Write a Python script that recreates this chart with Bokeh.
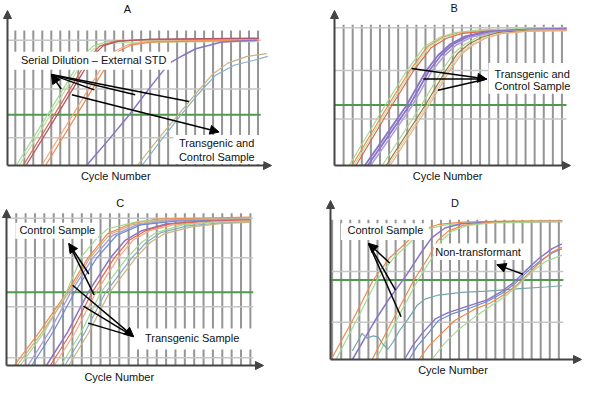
from bokeh.plotting import figure
from bokeh.models import Range1d, BoxAnnotation, Label, Arrow, NormalHead
from bokeh.layouts import gridplot
from bokeh.embed import file_html
from bokeh.resources import INLINE

FONT = "Liberation Sans"

# ---------------- Panel A : serial dilution (x = cycle, y = log fluorescence, a.u.) -------------
a_cycles = list(range(1, 29))
a_hlines = [29, 80, 131]
a_threshold = 53
a_dil1_green_x = [1.1, 4.25, 6.97, 8.59, 9.68, 11.3, 14.56, 28.11]
a_dil1_green_y = [0, 48, 90, 115, 125, 129.5, 131, 131.5]
a_dil1_green2_x = [1.43, 4.58, 7.29, 8.92, 10.0, 11.63, 15.1, 28.11]
a_dil1_green2_y = [0, 48, 90, 115, 124, 128, 129, 129.5]
a_dil1_red_x = [1.87, 5.01, 7.72, 9.35, 10.44, 12.17, 15.64, 28.11]
a_dil1_red_y = [0, 48, 90, 115, 125, 130, 131.5, 132.5]
a_dil1_maroon_x = [2.19, 5.34, 8.05, 9.68, 10.76, 12.5, 16.18, 28.11]
a_dil1_maroon_y = [0, 48, 90, 115, 125, 130, 132, 133]
a_dil2_orange_x = [3.93, 7.07, 9.79, 11.09, 12.17, 13.47, 15.64, 19.98, 28.11]
a_dil2_orange_y = [0, 48, 90, 110, 120, 126, 129.5, 130.5, 131]
a_dil2_orange2_x = [4.36, 7.51, 10.22, 11.52, 12.6, 13.9, 16.18, 21.07, 28.11]
a_dil2_orange2_y = [0, 48, 90, 110, 120, 126, 129, 130, 130.5]
a_dil3_purple_x = [8.92, 11.3, 13.69, 16.18, 18.14, 19.66, 21.07, 23.99, 27.9]
a_dil3_purple_y = [0, 26, 53, 84, 107, 115, 122, 129, 131]
a_sample_tan_x = [14.56, 16.84, 19.11, 21.07, 22.91, 24.64, 26.81, 28.98]
a_sample_tan_y = [0, 27, 53, 75, 95, 107, 114, 117]
a_sample_blue_x = [15.1, 17.27, 19.44, 21.39, 23.23, 25.4, 27.57, 29.09]
a_sample_blue_y = [0, 27, 53, 75, 94, 105, 110, 114]

# ---------------- Panel B ----------------
b_cycles = list(range(1, 26))
b_hlines = [48.7, 99.3, 144]
b_threshold = 63.3
b_g1_green_x = [1.61, 5.58, 7.93, 9.86, 11.58, 13.29, 16.19, 25.51]
b_g1_green_y = [0, 63, 99, 124, 134, 139, 142, 144]
b_g1_orange_x = [1.93, 5.9, 8.26, 10.19, 11.9, 13.61, 16.51, 25.51]
b_g1_orange_y = [0, 63, 99, 124, 134, 138.5, 141, 142]
b_g1_green2_x = [2.15, 6.11, 8.47, 10.4, 12.11, 13.83, 16.72, 25.51]
b_g1_green2_y = [0, 63, 99, 124, 134, 138, 141, 142.5]
b_g1_orange2_x = [2.36, 6.33, 8.68, 10.61, 12.33, 14.04, 16.94, 25.51]
b_g1_orange2_y = [0, 63, 99, 123, 133, 138, 140.5, 141.5]
b_g2_purple_x = [3.33, 5.68, 7.93, 10.08, 11.36, 12.76, 14.36, 16.72, 21.01, 25.51]
b_g2_purple_y = [0, 32, 63, 99, 115, 127, 135, 140, 142, 143]
b_g2_purple2_x = [3.65, 6.0, 8.26, 10.4, 11.69, 13.08, 14.69, 17.04, 21.33, 25.51]
b_g2_purple2_y = [0, 32, 63, 99, 115, 127, 135, 140, 142, 142.5]
b_g2_lavender_x = [3.97, 6.33, 8.58, 10.72, 12.0, 13.4, 15.01, 17.37, 21.65, 25.51]
b_g2_lavender_y = [0, 32, 63, 99, 114, 126, 134, 139, 141.5, 142]
b_g3_green_x = [5.25, 9.54, 11.79, 13.08, 14.36, 15.76, 17.58, 21.01, 25.51]
b_g3_green_y = [0, 63, 99, 117, 127, 134, 138.5, 141, 142]
b_g3_brown_x = [5.68, 9.97, 12.22, 13.51, 14.79, 16.19, 18.01, 21.01, 25.51]
b_g3_brown_y = [0, 63, 99, 117, 127, 134, 139, 141, 141.5]
b_g3_green2_x = [5.9, 10.19, 12.44, 13.72, 15.01, 16.4, 18.22, 21.22, 25.51]
b_g3_green2_y = [0, 63, 99, 116, 126, 133, 138, 140.5, 141]
b_g3_orange_x = [6.11, 10.4, 12.65, 13.94, 15.22, 16.62, 18.44, 21.44, 25.51]
b_g3_orange_y = [0, 63, 99, 116, 126, 133, 138, 140.5, 141]

# ---------------- Panel C ----------------
c_cycles = list(range(1, 27))
c_hlines = [8, 61, 112, 153]
c_threshold = 76
c_ctl_orange_x = [0.79, 3.49, 6.40, 8.68, 10.76, 13.15, 15.95, 25.92]
c_ctl_orange_y = [0, 35, 76, 112, 137, 147, 152, 154]
c_ctl_green_x = [1.42, 4.01, 6.09, 7.96, 9.41, 10.76, 14.19, 25.92]
c_ctl_green_y = [0, 35, 70, 113, 130, 142, 150, 152]
c_ctl_tan_x = [1.10, 3.80, 6.61, 8.89, 10.97, 13.36, 16.47, 25.92]
c_ctl_tan_y = [0, 35, 76, 112, 136, 146, 151, 153]
c_ctl_lavender_x = [2.25, 4.53, 6.82, 9.20, 11.28, 13.88, 17.51, 25.92]
c_ctl_lavender_y = [0, 35, 76, 112, 135, 146, 151, 152]
c_ctl_blue_x = [2.66, 4.95, 7.23, 9.62, 11.70, 14.29, 18.03, 25.92]
c_ctl_blue_y = [0, 35, 76, 112, 135, 146, 150, 151]
c_tg_purple_x = [4.22, 6.50, 8.68, 11.07, 12.63, 14.40, 16.99, 21.15, 25.92]
c_tg_purple_y = [0, 35, 76, 112, 130, 140, 147, 150, 151]
c_tg_red_x = [4.63, 6.92, 9.10, 11.49, 13.05, 14.81, 17.41, 21.56, 25.92]
c_tg_red_y = [0, 35, 76, 112, 130, 140, 147, 150, 150.5]
c_tg_orange_x = [5.05, 7.33, 9.52, 11.90, 13.46, 15.23, 17.82, 21.98, 25.92]
c_tg_orange_y = [0, 35, 76, 112, 130, 140, 146, 149, 150]
c_tg_green_x = [5.78, 7.96, 10.03, 12.84, 14.40, 15.95, 18.76, 22.18, 25.92]
c_tg_green_y = [0, 35, 76, 112, 128, 138, 146, 149, 150]
c_tg_steel_x = [6.19, 8.37, 10.55, 13.36, 14.91, 16.47, 19.28, 22.70, 25.92]
c_tg_steel_y = [0, 35, 76, 112, 128, 138, 145, 148, 149]
c_tg_tan_x = [6.61, 8.79, 10.97, 13.77, 15.33, 16.89, 19.69, 23.01, 25.92]
c_tg_tan_y = [0, 35, 76, 112, 128, 137, 144, 147.5, 148.5]

# ---------------- Panel D ----------------
d_cycles = list(range(1, 27))
d_hlines = [39, 92]
d_threshold = 83
d_ctl_orange_x = [0.89, 3.26, 5.52, 7.34, 9.49, 11.11, 12.72, 15.41, 20.25, 26.38]
d_ctl_orange_y = [0, 41, 83, 106, 125, 136, 141, 143.5, 144.5, 145]
d_ctl_green_x = [1.43, 3.69, 5.95, 7.77, 9.92, 11.54, 13.15, 15.95, 20.78, 26.38]
d_ctl_green_y = [0, 41, 83, 106, 125, 136, 140, 142.5, 144, 144.5]
d_ctl_purple_x = [3.23, 5.73, 7.34, 9.14, 10.75, 12.0, 13.44, 15.23, 18.10, 26.34]
d_ctl_purple_y = [0, 40.7, 64, 87.3, 110.7, 127.3, 137.3, 141.7, 143.3, 144]
d_ctl_orange2_x = [5.41, 7.67, 10.03, 11.65, 12.61, 13.80, 15.41, 18.10, 22.40, 26.38]
d_ctl_orange2_y = [0, 41, 83, 107, 124, 134, 140, 143, 144, 144.5]
d_ctl_green2_x = [5.84, 8.10, 10.46, 12.08, 13.04, 14.23, 15.95, 18.63, 22.94, 26.38]
d_ctl_green2_y = [0, 41, 83, 107, 124, 134, 140, 142.5, 143.5, 144]
d_teal_x = [3.23, 3.76, 4.30, 4.84, 5.55, 6.09, 6.62, 7.16, 7.70, 8.42, 9.31, 10.39, 11.29,
            12.72, 15.23, 18.10, 21.68, 24.55, 26.34]
d_teal_y = [9, 18, 27.3, 22.3, 24.7, 23.3, 15.7, 10.7, 18, 30, 41.3, 56.7, 63.3,
            67.3, 70, 71.3, 74, 75.7, 77]
d_nt_purple_x = [8.96, 9.85, 10.92, 12.37, 13.80, 15.95, 18.10, 19.53, 20.97, 22.40, 23.83, 25.27, 26.34]
d_nt_purple_y = [0, 14, 27.3, 42.3, 49, 55.7, 62.3, 70, 80, 93.3, 105.7, 115.7, 120.7]
d_nt_blue_x = [9.49, 10.39, 11.46, 12.72, 14.15, 16.30, 18.28, 19.71, 21.14, 22.58, 24.01, 25.27, 26.34]
d_nt_blue_y = [0, 14, 25.7, 40.7, 47.3, 54, 61.3, 69, 79, 92.3, 103.3, 111.3, 115.7]
d_nt_orange_x = [10.57, 11.65, 12.90, 14.52, 16.67, 18.45, 19.89, 21.32, 22.58, 24.01, 25.27, 26.34]
d_nt_orange_y = [0, 14, 25.7, 40.7, 52.3, 59, 67.3, 77.3, 89, 102.3, 112.3, 117.3]
d_nt_green_x = [12.0, 13.44, 14.87, 16.67, 18.45, 20.06, 21.68, 23.12, 24.55, 26.34]
d_nt_green_y = [0, 17.3, 30.7, 44, 55.7, 65.7, 79, 92.3, 102.3, 109]

# ---------------- colours ----------------
C_LGREEN = "#a3d993"
C_LGREEN2 = "#b9e2a8"
C_RED = "#e8644c"
C_MAROON = "#b0586a"
C_ORANGE = "#f08a4c"
C_LORANGE = "#f6a882"
C_PURPLE = "#8a74c6"
C_LAVENDER = "#ac9fdc"
C_TAN = "#c8b484"
C_LBLUE = "#84b2c8"
C_BLUE = "#6a8cd0"
C_BROWN = "#b06a3c"
C_TEAL = "#74a6aa"
C_STEEL = "#8aaabd"
GRID_V = "#959595"
GRID_H = "#c6c6c6"
THRESH = "#4f9a4f"
AXIS = "#444444"

W, H = 292, 192


def panel(box_px, xspan, ytop):
    """box_px = (left, right, top, bottom) canvas pixels of the axis box."""
    l, r, t, b = box_px
    xs, xe = xspan
    ux = (xe - xs) / (r - l)
    uy = ytop / (b - t)
    p = figure(width=W, height=H,
               x_range=Range1d(xs - l * ux, xe + (W - r) * ux),
               y_range=Range1d(-(H - b) * uy, ytop + t * uy),
               x_axis_location=None, y_axis_location=None,
               output_backend="svg", toolbar_location=None,
               min_border_left=0, min_border_right=0, min_border_top=0, min_border_bottom=0,
               background_fill_color="white", border_fill_color="white",
               outline_line_color=None)
    p.grid.visible = False
    return p


def axes(p, xs, xe, ytop):
    p.add_layout(Arrow(x_start=xs, y_start=0, x_end=xe, y_end=0,
                       end=NormalHead(size=8, fill_color=AXIS, line_color=AXIS),
                       line_color=AXIS, line_width=2))
    p.add_layout(Arrow(x_start=xs, y_start=0, x_end=xs, y_end=ytop,
                       end=NormalHead(size=8, fill_color=AXIS, line_color=AXIS),
                       line_color=AXIS, line_width=2))


def grid(p, cycles, vtop, hlines, thr, xs, xe):
    p.segment(x0=cycles, y0=[0] * len(cycles), x1=cycles, y1=[vtop] * len(cycles),
              line_color=GRID_V, line_width=2)
    p.segment(x0=[xs] * len(hlines), y0=hlines, x1=[xe] * len(hlines), y1=hlines,
              line_color=GRID_H, line_width=1.5)
    p.segment(x0=[xs], y0=[thr], x1=[xe], y1=[thr], line_color=THRESH, line_width=2)


def curves(p, items):
    for xs, ys, col, lw in items:
        p.line(xs, ys, line_color=col, line_width=lw)


def box(p, l, r, b, t):
    p.add_layout(BoxAnnotation(left=l, right=r, bottom=b, top=t, fill_color="white",
                               fill_alpha=1.0, line_color=None, level="annotation"))


def text(p, x, y, s, align="left"):
    p.add_layout(Label(x=x, y=y, text=s, text_font=FONT, text_font_size="11px",
                       text_color="#111111", text_align=align, text_baseline="middle"))


def arrow(p, xs, ys, xe, ye, head=True):
    p.add_layout(Arrow(x_start=xs, y_start=ys, x_end=xe, y_end=ye,
                       end=NormalHead(size=9, fill_color="black", line_color="black") if head else None,
                       line_color="black", line_width=1.5))


# ---------------- A ----------------
pa = panel((7, 271, 10, 165), (0.13, 29.5), 162)
grid(pa, a_cycles, 141, a_hlines, a_threshold, 0.13, 28.3)
curves(pa, [
    (a_dil1_green_x, a_dil1_green_y, C_LGREEN, 1.2),
    (a_dil1_green2_x, a_dil1_green2_y, C_LGREEN2, 1.2),
    (a_dil1_red_x, a_dil1_red_y, C_RED, 1.2),
    (a_dil1_maroon_x, a_dil1_maroon_y, C_MAROON, 1.3),
    (a_dil2_orange_x, a_dil2_orange_y, C_LORANGE, 1.2),
    (a_dil2_orange2_x, a_dil2_orange2_y, C_ORANGE, 1.2),
    (a_dil3_purple_x, a_dil3_purple_y, C_PURPLE, 1.5),
    (a_sample_tan_x, a_sample_tan_y, C_TAN, 1.2),
    (a_sample_blue_x, a_sample_blue_y, C_LBLUE, 1.2),
])
axes(pa, 0.13, 29.5, 162)
box(pa, 0.8, 18.3, 100, 119)
box(pa, 18.6, 28.6, 1.5, 32)
text(pa, 1.62, 110, "Serial Dilution \u2013 External STD")
text(pa, 19.2, 23, "Transgenic and")
text(pa, 19.2, 9, "Control Sample")
text(pa, 13.47, 164, "A", "center")
text(pa, 12.17, -11, "Cycle Number", "center")
arrow(pa, 6.1, 80, 5.01, 95)
arrow(pa, 9.79, 79, 5.01, 95, head=False)
arrow(pa, 14.34, 74, 5.01, 95, head=False)
arrow(pa, 20.31, 67, 5.01, 95, head=False)
arrow(pa, 7.29, 74, 23.67, 35)

# ---------------- B ----------------
pb = panel((42, 278, 10, 165), (0.0, 25.94), 162)
grid(pb, b_cycles, 147, b_hlines, b_threshold, 0.0, 25.5)
curves(pb, [
    (b_g1_green_x, b_g1_green_y, C_LGREEN, 1.2),
    (b_g1_orange_x, b_g1_orange_y, C_ORANGE, 1.2),
    (b_g1_green2_x, b_g1_green2_y, C_LGREEN2, 1.2),
    (b_g1_orange2_x, b_g1_orange2_y, C_RED, 1.2),
    (b_g2_purple_x, b_g2_purple_y, C_PURPLE, 1.8),
    (b_g2_purple2_x, b_g2_purple2_y, C_PURPLE, 1.8),
    (b_g2_lavender_x, b_g2_lavender_y, C_LAVENDER, 1.6),
    (b_g3_green_x, b_g3_green_y, C_LGREEN, 1.2),
    (b_g3_brown_x, b_g3_brown_y, C_BROWN, 1.2),
    (b_g3_green2_x, b_g3_green2_y, C_LGREEN2, 1.2),
    (b_g3_orange_x, b_g3_orange_y, C_LORANGE, 1.2),
])
axes(pb, 0.0, 25.94, 162)
box(pb, 16.93, 26.1, 75, 107)
text(pb, 17.58, 96, "Transgenic and")
text(pb, 17.58, 83, "Control Sample")
text(pb, 13.15, 164.7, "B", "center")
text(pb, 12.43, -11, "Cycle Number", "center")
arrow(pb, 8.47, 101.3, 16.72, 90.3)
arrow(pb, 9.76, 90.3, 16.72, 90.3, head=False)
arrow(pb, 11.37, 78.7, 16.72, 90.3, head=False)

# ---------------- C ----------------
pc = panel((6, 263, 17, 173), (-0.04, 27.4), 162)
grid(pc, c_cycles, 158, c_hlines, c_threshold, -0.04, 26.3)
curves(pc, [
    (c_ctl_orange_x, c_ctl_orange_y, C_ORANGE, 1.2),
    (c_ctl_green_x, c_ctl_green_y, C_LGREEN, 1.2),
    (c_ctl_tan_x, c_ctl_tan_y, C_TAN, 1.2),
    (c_ctl_lavender_x, c_ctl_lavender_y, C_LAVENDER, 1.4),
    (c_ctl_blue_x, c_ctl_blue_y, C_BLUE, 1.2),
    (c_tg_purple_x, c_tg_purple_y, C_PURPLE, 1.5),
    (c_tg_red_x, c_tg_red_y, C_RED, 1.2),
    (c_tg_orange_x, c_tg_orange_y, C_LORANGE, 1.2),
    (c_tg_green_x, c_tg_green_y, C_LGREEN, 1.2),
    (c_tg_steel_x, c_tg_steel_y, C_STEEL, 1.2),
    (c_tg_tan_x, c_tg_tan_y, C_TAN, 1.2),
])
axes(pc, -0.04, 27.4, 162)
box(pc, 0.9, 9.72, 131.7, 148.3)
box(pc, 13.88, 26.4, 16.7, 38.3)
text(pc, 1.34, 140.7, "Control Sample")
text(pc, 14.74, 28.3, "Transgenic Sample")
text(pc, 12.11, 169, "C", "center")
text(pc, 12.0, -12, "Cycle Number", "center")
arrow(pc, 8.76, 95, 6.61, 126.7)
arrow(pc, 9.31, 73.3, 6.61, 126.7, head=False)
arrow(pc, 7.02, 83.3, 13.53, 30)
arrow(pc, 8.17, 61.7, 13.53, 30, head=False)
arrow(pc, 8.68, 44, 13.53, 30, head=False)

# ---------------- D ----------------
pd_ = panel((38, 289, 8, 167), (0.82, 28.5), 166)
grid(pd_, d_cycles, 146, d_hlines, d_threshold, 0.82, 26.5)
curves(pd_, [
    (d_ctl_orange_x, d_ctl_orange_y, C_ORANGE, 1.2),
    (d_ctl_green_x, d_ctl_green_y, C_LGREEN, 1.2),
    (d_ctl_purple_x, d_ctl_purple_y, C_PURPLE, 1.5),
    (d_ctl_orange2_x, d_ctl_orange2_y, C_ORANGE, 1.2),
    (d_ctl_green2_x, d_ctl_green2_y, C_LGREEN, 1.2),
    (d_teal_x, d_teal_y, C_TEAL, 1.2),
    (d_nt_purple_x, d_nt_purple_y, C_PURPLE, 1.4),
    (d_nt_blue_x, d_nt_blue_y, C_BLUE, 1.2),
    (d_nt_orange_x, d_nt_orange_y, C_ORANGE, 1.2),
    (d_nt_green_x, d_nt_green_y, C_LGREEN, 1.2),
])
axes(pd_, 0.82, 28.5, 166)
box(pd_, 1.97, 11.65, 124.7, 142.3)
box(pd_, 12.2, 22.4, 104, 121)
text(pd_, 2.69, 134.7, "Control Sample")
text(pd_, 12.37, 112.3, "Non-transformant")
text(pd_, 14.55, 163, "D", "center")
text(pd_, 14.33, -11, "Cycle Number", "center")
arrow(pd_, 7.34, 100.7, 5.01, 121.3)
arrow(pd_, 7.99, 72.3, 5.01, 121.3, head=False)
arrow(pd_, 8.60, 44.7, 5.01, 121.3, head=False)
arrow(pd_, 22.04, 89, 19.17, 99)

layout = gridplot([[pa, pb], [pc, pd_]], toolbar_location=None)
open("out.html", "w").write(file_html(layout, INLINE))
